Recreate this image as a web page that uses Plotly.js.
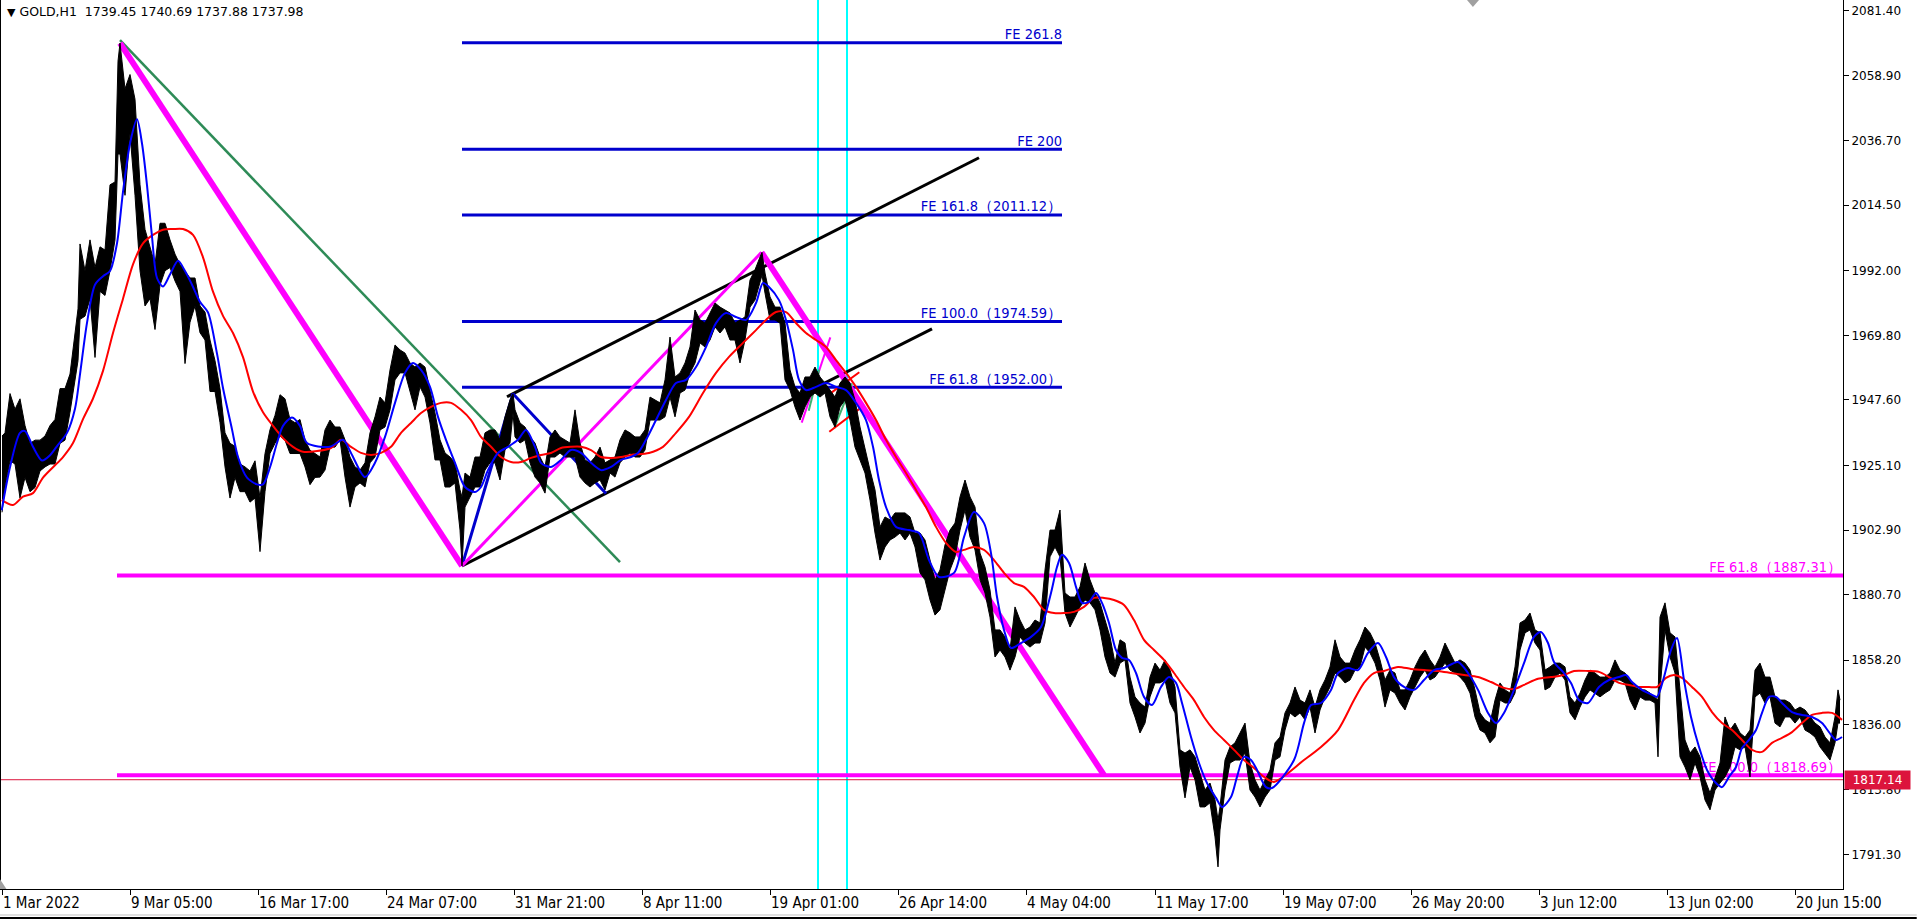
<!DOCTYPE html>
<html><head><meta charset="utf-8">
<script src="https://cdn.plot.ly/plotly-3.0.1.min.js"></script>
<style>html,body{margin:0;padding:0;background:#fff;overflow:hidden}#chart{width:1917px;height:919px}</style>
</head><body><div id="chart"></div>
<script>
// ---- axis ----
const tickIdx = [2,130,258,386,514,642,770,898,1026,1155,1283,1411,1539,1667,1795];
const tickText = ["1 Mar 2022","9 Mar 05:00","16 Mar 17:00","24 Mar 07:00","31 Mar 21:00","8 Apr 11:00","19 Apr 01:00","26 Apr 14:00","4 May 04:00","11 May 17:00","19 May 07:00","26 May 20:00","3 Jun 12:00","13 Jun 02:00","20 Jun 15:00"];
const priceTicks = [2081.40,2058.90,2036.70,2014.50,1992.00,1969.80,1947.60,1925.10,1902.90,1880.70,1858.20,1836.00,1813.80,1791.30];
const idxRange = [0,1843];
const priceRange = [1779.6,2085.0];

// ---- H1 bars (high / low), bar index ----
const barIdx = [
 2,5,10,15,20,25,30,35,40,45,50,55,60,65,70,75,78,80,85,90,95,100,105,110,115,118,120,125,130,135,140,145,150,155,160,165,170,175,180,185,190,195,200,205,210,215,220,225,230,235,240,245,250,255,260,265,270,275,280,285,290,295,300,305,310,315,
 320,325,330,335,340,345,350,355,360,365,370,375,380,385,390,395,400,405,410,415,420,425,430,435,440,445,450,455,460,462,465,470,475,480,485,490,495,500,505,510,513,515,520,525,530,535,540,545,550,555,560,565,570,575,580,585,590,595,600,605,610,615,620,625,630,635,
 640,645,650,655,660,665,670,675,680,685,690,695,700,705,710,715,720,725,730,735,740,745,750,755,760,762,765,770,775,780,785,790,795,800,805,810,815,820,825,830,835,840,845,850,855,860,865,870,875,880,885,890,895,900,905,910,915,920,925,930,935,940,945,950,
 955,960,965,970,975,980,985,990,995,1000,1005,1010,1015,1020,1025,1030,1035,1040,1045,1050,1055,1060,1065,1070,1075,1080,1085,1090,1095,1100,1105,1110,1115,1120,1125,1130,1135,1140,1145,1150,1155,1160,1165,1170,1175,1180,1185,1190,1195,1200,1205,1210,1215,1218,1220,1225,1230,1235,1240,1245,1250,1255,1260,1265,1270,
 1275,1280,1285,1290,1295,1300,1305,1310,1315,1320,1325,1330,1335,1340,1345,1350,1355,1360,1365,1370,1375,1380,1385,1390,1395,1400,1405,1410,1415,1420,1425,1430,1435,1440,1445,1450,1455,1460,1465,1470,1475,1480,1485,1490,1495,1500,1505,1510,1515,1520,1525,1530,1535,1540,1545,1550,1555,1560,1565,1570,1575,1580,1585,
 1590,1595,1600,1605,1610,1615,1620,1625,1630,1635,1640,1645,1650,1655,1658,1660,1665,1670,1675,1680,1685,1690,1695,1700,1705,1710,1715,1720,1725,1730,1735,1740,1745,1750,1755,1760,1765,1770,1775,1780,1785,1790,1795,1800,1805,1810,1815,1820,1825,1830,1835,1838,1840];
const barHigh = [
 1935.2,1936.3,1949.8,1944.4,1948.0,1938.8,1932.7,1933.8,1933.8,1935.2,1938.8,1940.9,1951.5,1951.5,1956.5,1970.7,1978.9,2001.2,1992.0,2002.6,1993.1,2000.2,1999.1,2021.5,2022.5,2064.0,2070.2,2054.5,2059.4,2050.9,2021.5,2006.2,2000.2,1994.1,2008.3,2008.3,2002.6,1997.7,1994.1,1992.0,1989.5,1989.5,1979.9,1977.8,1968.2,1961.1,1951.5,1936.3,1932.7,1931.7,1925.6,1924.6,1923.2,1926.7,1913.9,1929.2,1937.4,1942.3,1949.4,1948.0,1940.9,1939.8,1940.9,1933.8,1930.3,1929.2,
 1928.0,1937.3,1940.7,1938.3,1938.3,1933.9,1928.0,1924.6,1923.5,1926.0,1936.3,1941.8,1948.6,1946.6,1957.9,1966.5,1964.8,1963.7,1960.3,1958.9,1960.3,1958.9,1951.0,1943.1,1933.9,1929.4,1928.0,1926.0,1916.7,1914.3,1922.5,1921.1,1928.0,1928.0,1936.3,1937.3,1937.3,1933.9,1941.8,1947.6,1949.7,1944.2,1939.7,1938.3,1934.9,1932.8,1928.0,1924.6,1934.9,1937.3,1934.9,1933.9,1932.8,1944.2,1932.8,1927.0,1926.0,1928.0,1931.4,1926.0,1927.0,1928.0,1933.9,1937.3,1936.3,1934.9,
 1934.9,1937.3,1948.6,1947.6,1946.6,1954.5,1969.2,1955.5,1956.9,1960.3,1965.8,1978.5,1975.1,1974.0,1977.5,1980.9,1979.5,1978.5,1977.5,1974.0,1975.1,1976.1,1988.8,1992.3,1996.7,1998.3,1991.2,1983.0,1979.5,1979.5,1974.0,1957.9,1952.1,1950.0,1955.5,1955.5,1958.9,1955.5,1953.4,1951.0,1948.6,1953.4,1955.5,1953.4,1947.6,1938.3,1930.4,1923.5,1916.7,1904.0,1907.4,1906.4,1908.8,1908.8,1908.8,1907.4,1901.9,1901.9,1899.5,1892.6,1885.8,1889.2,1897.8,1902.9,
 1905.3,1914.3,1920.1,1914.3,1910.8,1895.0,1890.2,1882.3,1868.6,1868.6,1866.2,1861.7,1876.5,1872.0,1868.6,1869.6,1872.0,1871.0,1889.2,1902.9,1902.9,1909.8,1881.3,1879.9,1879.9,1883.4,1891.6,1885.8,1881.3,1877.9,1872.0,1866.2,1857.2,1865.2,1864.1,1852.4,1845.6,1843.5,1842.1,1852.4,1857.2,1854.8,1858.3,1854.8,1849.0,1827.4,1826.3,1827.4,1825.0,1819.5,1813.6,1816.0,1810.2,1803.3,1807.8,1823.9,1828.4,1829.8,1833.2,1836.6,1822.9,1817.1,1813.6,1817.1,1820.5,
 1829.8,1831.8,1840.1,1843.5,1849.0,1844.5,1843.5,1848.0,1842.1,1848.0,1851.4,1855.9,1865.2,1859.3,1857.2,1857.2,1861.7,1865.2,1869.6,1867.6,1864.1,1858.3,1851.4,1854.8,1853.8,1848.0,1848.0,1851.4,1855.9,1859.3,1861.7,1858.3,1855.9,1859.3,1864.1,1860.7,1857.2,1858.3,1857.2,1854.8,1848.0,1840.1,1837.7,1836.6,1844.5,1850.4,1848.0,1846.9,1855.9,1871.0,1872.0,1874.4,1868.6,1867.6,1854.8,1855.9,1857.2,1857.2,1855.9,1845.6,1843.5,1846.9,1851.4,
 1854.8,1853.8,1852.4,1852.4,1853.8,1858.3,1854.8,1853.8,1851.4,1849.0,1848.0,1848.0,1846.9,1845.6,1844.5,1873.0,1877.9,1867.6,1866.2,1848.0,1830.8,1826.3,1828.4,1825.0,1817.1,1812.6,1818.1,1822.9,1838.7,1834.2,1836.6,1833.2,1831.8,1834.2,1854.8,1857.2,1852.4,1852.4,1845.6,1844.5,1844.5,1843.5,1841.1,1842.1,1841.1,1838.7,1836.6,1835.3,1831.8,1829.8,1838.7,1848.0,1844.5];
const barLow = [
 1909.0,1917.5,1926.7,1925.6,1913.9,1921.0,1916.1,1917.5,1923.2,1924.6,1925.6,1925.6,1932.7,1933.8,1943.4,1955.1,1961.1,1975.3,1976.4,1982.4,1962.2,1984.9,1983.5,1992.0,2002.6,2032.1,2032.1,2017.9,2039.2,2017.9,1992.0,1979.9,1982.4,1971.8,1987.0,1992.0,1993.1,1988.5,1984.9,1960.1,1974.3,1979.9,1970.7,1968.2,1950.5,1950.5,1939.8,1924.6,1913.9,1921.0,1916.1,1916.1,1912.5,1913.9,1895.5,1916.1,1929.2,1932.7,1935.2,1933.8,1929.2,1929.2,1929.2,1924.6,1918.5,1921.0,
 1921.1,1923.5,1931.4,1931.4,1933.9,1921.1,1910.8,1917.7,1919.1,1917.7,1926.0,1928.0,1937.3,1938.3,1944.2,1954.5,1956.9,1956.9,1951.0,1944.2,1952.1,1948.6,1939.7,1927.0,1927.0,1917.7,1917.7,1919.1,1902.9,1890.6,1910.8,1914.3,1917.7,1917.7,1923.5,1926.0,1926.0,1920.1,1930.4,1932.8,1943.1,1934.9,1932.8,1933.9,1926.0,1921.1,1919.1,1915.6,1928.0,1928.0,1929.4,1928.0,1928.0,1928.0,1921.1,1919.1,1917.7,1919.1,1920.1,1916.7,1922.5,1921.1,1926.0,1928.0,1929.4,1928.0,
 1928.0,1930.4,1940.7,1940.7,1940.7,1941.8,1948.6,1941.8,1950.0,1951.0,1956.9,1960.3,1967.2,1965.8,1968.2,1972.7,1970.6,1972.7,1968.2,1968.2,1960.3,1968.2,1979.5,1981.9,1987.8,1990.5,1984.3,1975.1,1975.1,1974.0,1954.5,1951.0,1945.2,1940.7,1945.2,1948.6,1950.0,1948.6,1950.0,1941.8,1938.3,1945.2,1947.6,1940.7,1931.4,1927.0,1922.5,1913.2,1901.9,1892.6,1897.1,1899.5,1900.5,1901.9,1899.5,1901.9,1897.1,1888.2,1885.8,1878.9,1873.7,1875.5,1882.3,1889.2,
 1893.7,1902.9,1909.8,1900.5,1896.1,1885.8,1881.3,1873.0,1859.3,1861.7,1859.3,1854.8,1859.3,1866.2,1864.1,1862.7,1864.1,1864.1,1871.0,1893.7,1897.1,1893.7,1874.4,1869.6,1873.0,1876.5,1878.9,1877.9,1875.5,1868.6,1859.3,1853.8,1852.4,1857.2,1858.3,1843.5,1838.7,1833.2,1836.6,1845.6,1850.4,1850.4,1851.4,1843.5,1840.1,1821.5,1810.9,1821.5,1817.1,1807.8,1807.8,1809.2,1797.5,1787.2,1799.9,1813.6,1822.9,1823.9,1823.9,1826.3,1813.6,1811.2,1807.8,1811.2,1813.6,
 1823.9,1825.0,1834.2,1840.1,1838.7,1840.1,1837.7,1842.1,1833.2,1841.1,1845.6,1849.0,1853.8,1852.4,1850.4,1851.4,1854.8,1855.9,1862.7,1860.7,1857.2,1851.4,1842.1,1848.0,1846.9,1843.5,1841.1,1845.6,1849.0,1852.4,1854.8,1851.4,1852.4,1854.8,1857.2,1854.8,1853.8,1852.4,1850.4,1846.9,1838.7,1834.2,1833.2,1829.8,1831.8,1844.5,1843.5,1843.5,1846.9,1861.7,1867.6,1868.6,1864.1,1861.7,1848.0,1849.0,1852.4,1853.8,1851.4,1840.1,1837.7,1842.1,1845.6,
 1848.0,1846.9,1845.6,1846.9,1848.0,1851.4,1851.4,1850.4,1844.5,1841.1,1845.6,1844.5,1844.5,1843.5,1825.0,1848.0,1868.6,1859.3,1853.8,1825.0,1821.5,1817.1,1822.9,1818.1,1810.2,1806.8,1813.6,1816.0,1818.1,1821.5,1828.4,1827.4,1828.4,1818.1,1845.6,1846.9,1843.5,1845.6,1836.6,1835.3,1838.7,1838.7,1836.6,1838.7,1834.2,1833.2,1831.8,1828.4,1826.3,1823.9,1829.8,1836.6,1836.6];

// ---- moving averages ----
const maFastIdx = [1.7,10,20,25,33,42,50,58,67,75,80,87,95,103,110,117,123,130,137,142,147,152,157,163,170,178,185,192,200,208,217,223,232,238,247,257,263,270,277,283,292,300,307,330,343,351,365,375,385,395,405,413,421,430,438,446,455,465,475,481,488,498,508,518,526,535,541,551,561,571,581,591,601,611,621,631,638,646,656,666,676,686,696,706,716,726,736,746,756,763,769,779,786,793,799,806,816,826,836,846,856,866,873,879,886,896,909,919,929,939,954,964,974,984,991,997,1004,1011,1021,1031,1041,1051,1057,1062,1069,1076,1082,1089,1096,1102,1109,1116,1122,1129,1136,1144,1152,1161,1169,1176,1182,1191,1199,1207,1216,1222,1231,1237,1244,1251,1257,1266,1272,1294,1304,1311,1321,1331,1338,1348,1358,1368,1378,1386,1394,1404,1414,1424,1434,1444,1458,1468,1478,1488,1496,1504,1514,1524,1534,1541,1548,1554,1564,1571,1579,1588,1599,1609,1619,1626,1632,1642,1652,1657,1664,1671,1677,1684,1691,1699,1707,1716,1722,1729,1736,1742,1749,1756,1762,1769,1776,1782,1792,1802,1812,1822,1829,1836,1842];
const maFastVal = [1909.7,1924.5,1936.3,1936.9,1931.5,1926.8,1928.6,1932.2,1936.3,1944.6,1956.4,1974.1,1987.2,1990.1,1991.9,2001.4,2019.1,2035.7,2044.0,2035.7,2021.4,2003.7,1989.5,1986.6,1990.7,1995.4,1991.9,1987.2,1981.3,1977.7,1963.5,1951.7,1937.5,1928.0,1920.9,1918.6,1918.6,1924.5,1932.8,1938.7,1941.6,1938.7,1932.8,1931.5,1933.9,1929.4,1921.1,1926.0,1934.9,1946.6,1956.9,1960.3,1957.9,1952.1,1941.8,1933.9,1926.0,1917.7,1916.0,1917.7,1923.5,1929.4,1931.5,1933.9,1937.3,1931.5,1926.0,1924.6,1927.0,1930.4,1929.4,1926.0,1923.5,1924.6,1927.0,1928.0,1929.4,1933.9,1940.7,1947.6,1953.4,1954.5,1958.9,1965.8,1974.0,1977.5,1976.1,1975.1,1980.9,1987.8,1986.4,1981.9,1975.1,1964.8,1954.5,1951.0,1952.1,1953.4,1952.1,1951.0,1946.6,1940.7,1931.5,1920.1,1910.8,1904.0,1902.9,1901.9,1892.6,1886.8,1888.2,1900.5,1909.1,1905.3,1895.0,1879.9,1868.6,1862.4,1864.1,1866.2,1869.6,1881.3,1890.2,1894.4,1891.6,1883.4,1877.9,1878.2,1881.3,1877.9,1871.0,1861.7,1859.0,1858.3,1853.8,1845.6,1842.8,1849.0,1852.4,1850.4,1843.5,1831.8,1822.9,1816.0,1810.9,1807.8,1811.2,1818.1,1825.0,1823.9,1820.5,1814.6,1814.3,1823.9,1836.6,1842.8,1843.5,1848.0,1853.8,1855.5,1854.8,1860.7,1864.1,1859.3,1852.4,1849.0,1848.0,1851.4,1854.8,1855.5,1857.6,1853.8,1848.0,1840.1,1836.6,1840.1,1848.0,1857.2,1866.2,1867.9,1864.1,1857.6,1853.8,1850.4,1844.5,1843.5,1849.0,1851.4,1852.4,1853.1,1850.7,1848.0,1846.3,1845.6,1852.4,1861.7,1865.8,1851.4,1838.7,1828.4,1820.5,1816.0,1814.6,1818.1,1821.5,1828.0,1830.8,1834.2,1840.1,1845.6,1845.6,1843.5,1840.4,1839.4,1838.7,1836.6,1833.5,1830.8,1831.8];
const maSlowIdx = [1.7,13,23,33,43,53,63,73,83,93,103,113,123,133,143,153,163,173,183,193,203,213,223,233,243,253,263,273,283,293,303,331,341,351,361,371,381,391,401,411,421,431,441,451,461,471,481,491,501,511,521,531,541,551,561,571,581,591,601,611,621,631,649,663,676,689,703,716,729,743,756,766,776,786,796,806,816,826,836,846,856,866,876,886,896,906,916,926,936,946,956,964,974,984,994,1004,1014,1024,1034,1044,1054,1064,1074,1084,1094,1104,1114,1124,1134,1144,1154,1164,1174,1184,1194,1204,1214,1224,1234,1244,1254,1264,1274,1304,1321,1338,1354,1364,1374,1384,1398,1411,1424,1438,1451,1464,1478,1491,1504,1514,1524,1538,1551,1564,1574,1588,1599,1609,1619,1629,1639,1649,1657,1666,1674,1682,1692,1702,1712,1722,1732,1742,1752,1762,1772,1782,1792,1802,1812,1822,1832,1842];
const maSlowVal = [1913.2,1911.5,1914.4,1915.6,1920.9,1924.5,1928.0,1932.8,1941.0,1948.1,1957.6,1970.6,1982.4,1994.2,2001.4,2004.3,2006.1,2006.3,2006.3,2004.3,1996.6,1984.8,1976.5,1970.6,1962.3,1950.5,1943.4,1938.7,1934.5,1931.5,1929.8,1931.1,1933.9,1931.5,1929.4,1928.7,1929.4,1931.5,1936.3,1939.7,1943.1,1945.2,1946.6,1946.6,1944.2,1940.7,1934.9,1931.5,1928.0,1926.3,1926.3,1927.7,1928.7,1929.4,1931.1,1931.5,1931.5,1930.4,1928.0,1927.7,1928.0,1928.7,1929.4,1931.5,1936.3,1941.8,1950.0,1956.9,1962.4,1967.2,1971.6,1975.1,1977.8,1977.8,1974.0,1970.6,1968.2,1965.8,1961.3,1956.9,1952.1,1946.6,1940.7,1933.9,1928.0,1922.5,1916.7,1910.8,1904.0,1898.5,1895.4,1896.1,1897.1,1896.1,1892.6,1888.2,1884.7,1883.4,1879.9,1875.5,1874.4,1874.4,1874.8,1876.5,1879.6,1879.6,1878.9,1877.2,1872.0,1865.2,1861.7,1858.3,1853.8,1849.0,1844.5,1838.7,1834.2,1830.8,1827.4,1823.9,1821.2,1818.1,1816.4,1823.9,1828.4,1834.2,1844.5,1850.4,1853.8,1854.5,1855.9,1855.2,1854.8,1854.5,1853.8,1853.1,1852.4,1850.7,1848.7,1848.3,1849.7,1851.8,1852.4,1853.1,1854.5,1854.5,1854.2,1852.4,1850.4,1849.7,1849.0,1849.0,1849.0,1852.1,1853.1,1852.1,1849.0,1845.6,1840.4,1836.6,1834.2,1830.8,1827.4,1826.7,1829.8,1831.5,1833.5,1836.6,1839.4,1840.1,1840.1,1837.7];

// ---- drawn objects ----
const zigIdx = [120,462,761.5,1104];                   // magenta swing points A,B,C,D
const zigVal = [2070.2,1890.6,1998.3,1818.69];
const blueIdx = [462,513,606];                         // blue FE swing points
const blueVal = [1890.6,1949.74,1915.45];
const blueLevels = [2070.28,2033.73,2011.12,1974.59,1952.00];
const blueLabels = ["FE 261.8","FE 200","FE 161.8（2011.12）","FE 100.0（1974.59）","FE 61.8（1952.00）"];
const blueSpan = [462,1062];
const magLevels = [1887.31,1818.69];
const magLabels = ["FE 61.8（1887.31）","FE 100.0（1818.69）"];
const magSpan = [117,1843];
const greenIdx = [120,620]; const greenVal = [2071.2,1891.9];
const chanUpIdx = [507,979];  const chanUpVal = [1948.7,2030.8];
const chanLoIdx = [462,932];  const chanLoVal = [1890.6,1972.0];
const vLineIdx = [818,847];
const bidPrice = 1817.14;
const smallMagIdx = [801.7,830.3]; const smallMagVal = [1939.8,1969.1];
const smallGreen = [[808.7,819.3],[1943.9,1958.1],[834.3,852],[1937.9,1953.3]];
const smallRed = [[829.3,860],[1936.7,1944.7],[829.3,859.3],[1949.6,1957.1]];

const NARROW = "'Liberation Sans Narrow','Arial Narrow','DejaVu Sans Condensed',sans-serif";
function line(x,y,color,width){return {type:'scatter',mode:'lines',x:x,y:y,line:{color:color,width:width},hoverinfo:'skip',showlegend:false,cliponaxis:true};}

const traces = [];
vLineIdx.forEach(v=>traces.push(line([v,v],priceRange,'#00FFFF',2)));
blueLevels.forEach(l=>traces.push(line(blueSpan,[l,l],'#0000CD',3)));
magLevels.forEach(l=>traces.push(line(magSpan,[l,l],'#FF00FF',4)));
traces.push(line(idxRange,[bidPrice,bidPrice],'#DC143C',1));
traces.push(line(greenIdx,greenVal,'#2E8B57',2.5));
traces.push(line(chanUpIdx,chanUpVal,'#000000',3));
traces.push(line(chanLoIdx,chanLoVal,'#000000',3));
traces.push(line(blueIdx,blueVal,'#0000CD',3));
traces.push(line([zigIdx[1],zigIdx[2]],[zigVal[1],zigVal[2]],'#FF00FF',3));
traces.push(line([zigIdx[0],zigIdx[1]],[zigVal[0],zigVal[1]],'#FF00FF',6));
traces.push(line([zigIdx[2],zigIdx[3]],[zigVal[2],zigVal[3]],'#FF00FF',6));
traces.push(line(smallMagIdx,smallMagVal,'#FF00FF',2));
traces.push(line(smallGreen[0],smallGreen[1],'#3CB371',2));
traces.push(line(smallGreen[2],smallGreen[3],'#3CB371',2));
traces.push(line(smallRed[0],smallRed[1],'#FF0000',2));
traces.push(line(smallRed[2],smallRed[3],'#FF0000',2));
// level labels
traces.push({type:'scatter',mode:'text',x:blueLevels.map(()=>blueSpan[1]),y:blueLevels,text:blueLabels,textposition:'top left',
  textfont:{family:NARROW,size:14.5,color:'#0000CD'},hoverinfo:'skip',showlegend:false,cliponaxis:false});
traces.push({type:'scatter',mode:'text',x:magLevels.map(()=>1842),y:magLevels,text:magLabels,textposition:'top left',
  textfont:{family:NARROW,size:14.5,color:'#FF00FF'},hoverinfo:'skip',showlegend:false,cliponaxis:false});
// price bars (high-low band)
traces.push({type:'scatter',mode:'lines',x:barIdx,y:barLow,line:{color:'#000',width:1},hoverinfo:'skip',showlegend:false});
traces.push({type:'scatter',mode:'lines',x:barIdx,y:barHigh,fill:'tonexty',fillcolor:'#000',line:{color:'#000',width:1},hoverinfo:'skip',showlegend:false});
// moving averages
traces.push({type:'scatter',mode:'lines',x:maSlowIdx,y:maSlowVal,line:{color:'#FF0000',width:2,shape:'spline',smoothing:0.8},hoverinfo:'skip',showlegend:false});
traces.push({type:'scatter',mode:'lines',x:maFastIdx,y:maFastVal,line:{color:'#0000FF',width:2,shape:'spline',smoothing:0.8},hoverinfo:'skip',showlegend:false});

const layout = {
  width:1917,height:919,margin:{l:0,r:74,t:0,b:30},
  paper_bgcolor:'#fff',plot_bgcolor:'#fff',showlegend:false,
  xaxis:{type:'linear',range:idxRange,showgrid:false,zeroline:false,showline:true,linecolor:'#000',linewidth:1,
    ticks:'outside',ticklen:5,tickcolor:'#000',tickvals:tickIdx,ticktext:tickText,ticklabelposition:'outside right',
    tickfont:{family:NARROW,size:15,color:'#000'},fixedrange:true},
  yaxis:{range:priceRange,side:'right',showgrid:false,zeroline:false,showline:true,linecolor:'#000',linewidth:1,
    ticks:'outside',ticklen:5,tickcolor:'#000',tickvals:priceTicks,ticktext:priceTicks.map(v=>v.toFixed(2)),
    tickfont:{family:'DejaVu Sans',size:12,color:'#000'},fixedrange:true},
  annotations:[
    {xref:'paper',yref:'paper',x:0,y:1,xanchor:'left',yanchor:'top',xshift:5,yshift:-2,showarrow:false,
     text:'<span style="font-size:11px">▼</span> GOLD,H1\u00a0\u00a01739.45 1740.69 1737.88 1737.98',
     font:{family:'DejaVu Sans',size:12.5,color:'#000'}},
    {xref:'paper',yref:'y',x:1,y:bidPrice,xanchor:'left',yanchor:'middle',xshift:1,showarrow:false,
     text:bidPrice.toFixed(2),bgcolor:'#DC143C',font:{family:'DejaVu Sans',size:12,color:'#fff'},width:61,height:14,borderpad:2}
  ],
  shapes:[
    {type:'line',xref:'paper',yref:'paper',x0:0,x1:0,y0:0,y1:1,line:{color:'#000',width:2}},
    {type:'path',xref:'paper',yref:'paper',path:'M 0.7960 1 L 0.8025 1 L 0.7992 0.992 Z',fillcolor:'#A0A0A0',line:{width:0}},
    {type:'path',xref:'paper',yref:'paper',path:'M 0 0 L 0.0035 0 L 0 0.011 Z',fillcolor:'#A0A0A0',line:{width:0}},
    {type:'line',xref:'paper',yref:'paper',x0:0,x1:1.04,y0:-0.0293,y1:-0.0293,line:{color:'#E0E0E0',width:2}},
    {type:'line',xref:'paper',yref:'paper',x0:0,x1:1.04,y0:-0.0326,y1:-0.0326,line:{color:'#000',width:2}}
  ]
};
Plotly.newPlot('chart',traces,layout,{staticPlot:true,displayModeBar:false});
</script></body></html>
